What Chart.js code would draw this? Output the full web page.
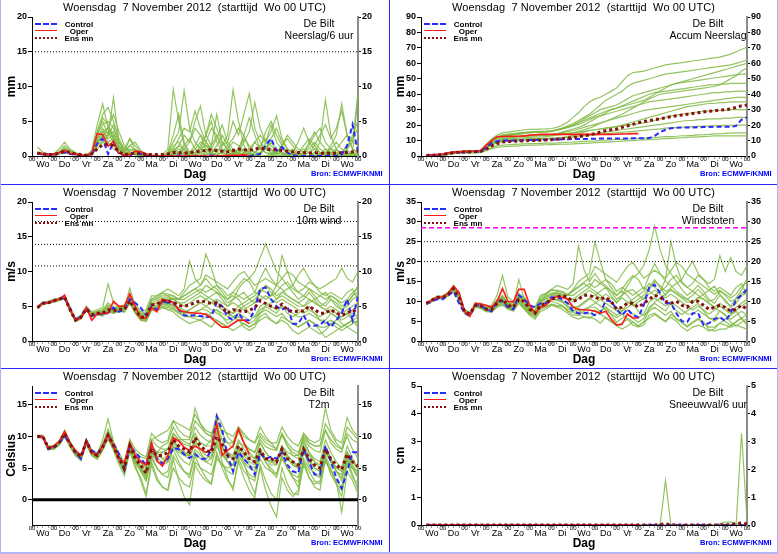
<!DOCTYPE html>
<html>
<head>
<meta charset="utf-8">
<script src="https://cdn.jsdelivr.net/npm/chart.js@4.4.0/dist/chart.umd.min.js"></script>
<style>
html, body { margin: 0; padding: 0; background: #fff; }
#frame { position: relative; width: 778px; height: 554px; overflow: hidden; font-family: "Liberation Sans", Arial, sans-serif; color: #000; }
.panel { position: absolute; width: 389px; height: 184px; }
.panel canvas { position: absolute; left: 0; top: 0; }
.ttl { position: absolute; left: 0; top: 1px; width: 389px; text-align: center; font-size: 11px; line-height: 13px; white-space: pre; letter-spacing: 0.1px; }
.stn { position: absolute; left: 259px; width: 120px; text-align: center; font-size: 10.5px; line-height: 12px; white-space: pre; }
.bron { position: absolute; left: 311px; top: 169px; font-size: 7.5px; line-height: 10px; font-weight: bold; color: #0000ff; white-space: pre; }
.lgl { position: absolute; left: 35px; width: 22px; height: 0; }
.lgt { position: absolute; left: 60px; width: 38px; text-align: center; font-size: 8px; line-height: 9px; font-weight: bold; }
.fl { position: absolute; background: #2a2aff; }
.ol { position: absolute; background: #b4b4f4; }
</style>
</head>
<body>
<div id="frame"></div>
<script>
// tijdstappen (uren na start) en as-labels
const hours = [6,12,18,24,30,36,42,48,54,60,66,72,78,84,90,96,102,108,114,120,126,132,138,144,150,156,162,168,174,180,186,192,198,204,210,216,222,228,234,240,246,252,258,264,270,276,282,288,294,300,306,312,318,324,330,336,342,348,354,360];
const hourTicks = [0,6,12,18,24,30,36,42,48,54,60,66,72,78,84,90,96,102,108,114,120,126,132,138,144,150,156,162,168,174,180,186,192,198,204,210,216,222,228,234,240,246,252,258,264,270,276,282,288,294,300,306,312,318,324,330,336,342,348,354,360];
const dayTicks = [12,36,60,84,108,132,156,180,204,228,252,276,300,324,348];
const dayLabels = ['Wo','Do','Vr','Za','Zo','Ma','Di','Wo','Do','Vr','Za','Zo','Ma','Di','Wo'];

// ---- Neerslag/6 uur ----
const precipControl = [0.4,0.2,0.2,0.2,0.4,0.5,0.3,0.2,0.1,0.0, 0.2,1.8,2.5,0.3,2.0,0.3,0.1,0.1,0.4,0.3, 0.1,0.0,0.0,0.0,0.0,0.0,0.1,0.0,0.0,0.0, 0.0,0.0,0.1,0.0,0.0,0.0,0.0,0.0,0.0,0.0, 0.1,0.3,1.5,2.5,0.8,1.3,0.5,0.1,0.0,0.0, 0.0,0.0,0.0,0.0,0.1,0.0,0.2,1.5,4.5,0.5];
const precipOper = [0.5,0.3,0.2,0.3,0.5,0.8,0.4,0.3,0.1,0.1, 0.4,3.2,3.1,1.4,2.1,0.4,0.1,0.2,0.7,0.6, 0.3,0.0,0.0,0.0,0.0,0.0,0.0,0.0,0.0,0.0, 0.0,0.0,0.0,0.0,0.0,0.1,0.1,0.1,0.2,0.0];
const precipMean = [0.4,0.3,0.2,0.2,0.4,0.7,0.5,0.3,0.2,0.1, 0.3,1.0,1.6,1.7,1.5,0.6,0.2,0.3,0.4,0.4, 0.2,0.2,0.2,0.2,0.3,0.5,0.5,0.4,0.5,0.6, 0.7,0.8,0.9,0.8,0.7,0.6,0.8,1.0,0.9,0.8, 1.0,1.2,1.0,0.9,0.9,0.8,0.7,0.6,0.5,0.5, 0.4,0.5,0.4,0.4,0.4,0.4,0.5,0.5,0.6,0.7];
const precipMembers = [
  [0.5,0.3,0.2,0.2,0.5,1.0,0.6,0.3,0.1,0.1, 0.5,3.5,5.0,3.0,8.4,2.0,1.0,2.5,0.8,0.3, 0.1,0.0,0.0,0.2,1.0,9.6,5.0,1.5,0.5,0.2, 0.5,1.0,0.3,0.0,0.0,0.2,0.5,0.3,0.1,0.0, 0.0,0.5,1.5,0.8,0.3,0.0,0.0,0.2,0.4,0.2, 0.0,0.0,0.3,1.0,0.5,0.2,0.0,0.0,0.3,0.5],
  [1.3,0.5,0.2,0.3,1.0,2.0,1.0,0.5,0.2,0.1, 0.8,4.5,7.5,4.0,2.5,1.0,0.5,1.5,2.0,0.8, 0.3,0.2,0.1,0.0,0.5,2.0,3.5,9.4,4.0,2.0, 1.0,0.5,1.5,3.0,1.0,0.5,0.3,0.0,0.0,0.5, 2.0,1.0,0.5,0.3,0.0,0.0,0.5,1.0,0.3,0.0, 0.0,0.5,0.3,0.0,0.0,0.2,0.5,0.8,0.3,0.0],
  [0.3,0.2,0.1,0.1,0.3,0.6,0.4,0.2,0.1,0.0, 0.3,2.5,3.5,2.5,3.0,1.5,0.5,0.5,0.3,0.1, 0.0,0.0,0.0,0.0,0.2,0.5,1.5,3.0,2.0,5.0, 7.2,3.0,1.5,6.0,2.0,1.0,0.5,0.5,1.0,0.3, 0.1,0.0,0.0,0.0,0.3,0.5,0.2,0.0,0.0,0.0, 0.0,0.5,2.0,8.1,3.0,1.0,0.3,0.0,0.0,0.0],
  [0.4,0.3,0.2,0.2,0.4,0.8,0.5,0.3,0.2,0.1, 0.5,3.0,4.5,5.0,4.0,2.0,1.0,1.0,0.5,0.2, 0.1,0.0,0.0,0.1,0.3,1.0,0.5,0.2,0.5,1.5, 3.0,2.0,1.0,0.5,1.5,3.0,9.5,5.0,1.5,0.5, 0.2,0.0,0.0,0.3,0.5,0.3,0.1,0.0,0.0,0.2, 0.5,1.0,0.5,0.2,0.0,0.0,0.0,0.3,0.5,0.3],
  [0.5,0.4,0.3,0.2,0.6,1.5,0.8,0.4,0.2,0.1, 0.4,2.0,3.0,4.0,6.0,3.5,1.5,0.5,0.3,0.2, 0.0,0.0,0.0,0.0,0.1,0.3,0.5,0.2,0.1,0.0, 0.5,2.0,4.0,3.0,1.5,2.0,5.0,3.0,6.0,9.0, 4.0,2.0,1.0,0.5,0.5,1.0,0.5,0.2,0.0,0.0, 0.0,0.0,0.3,0.5,1.0,2.0,1.0,0.5,0.2,0.0],
  [0.4,0.2,0.1,0.2,0.5,1.2,0.6,0.3,0.1,0.0, 0.2,1.5,2.5,1.5,1.5,0.8,0.3,0.2,0.5,0.2, 0.0,0.0,0.0,0.0,0.0,0.0,0.5,1.5,2.5,1.0, 0.5,0.2,0.5,1.0,0.5,0.2,0.0,0.5,2.0,3.5, 7.7,4.0,2.0,3.5,5.8,2.5,1.0,0.5,0.3,0.0, 0.0,0.0,0.0,0.5,1.0,0.5,0.2,0.0,0.0,0.3],
  [0.6,0.3,0.2,0.2,0.4,0.9,0.5,0.2,0.1,0.1, 0.6,3.5,6.0,7.0,5.0,2.5,1.0,0.8,1.0,0.4, 0.1,0.0,0.0,0.0,0.3,1.5,2.0,1.0,0.5,0.5, 1.0,1.5,1.0,0.5,0.3,0.1,0.0,0.0,0.3,1.0, 2.0,3.0,2.0,1.0,0.5,1.5,3.0,2.0,1.0,0.5, 2.0,3.5,2.0,1.0,0.5,0.3,0.2,1.0,3.0,5.0],
  [0.3,0.2,0.1,0.1,0.3,0.5,0.3,0.2,0.1,0.0, 0.2,1.0,2.0,2.0,1.0,0.5,0.2,0.3,0.2,0.1, 0.0,0.0,0.0,0.0,0.5,3.0,6.0,2.0,0.5,0.2, 1.0,3.0,5.0,2.0,0.5,0.3,0.2,0.5,1.0,0.5, 0.2,0.0,0.0,0.0,0.0,0.0,0.2,0.5,2.0,4.0, 2.0,1.0,0.5,0.3,1.5,3.0,7.5,3.0,1.0,0.5],
  [0.5,0.3,0.2,0.3,0.6,1.0,0.7,0.4,0.2,0.1, 0.3,2.0,3.0,3.5,2.0,1.2,0.6,2.5,1.5,0.5, 0.2,0.1,0.0,0.0,0.0,0.2,0.5,1.0,2.0,4.0, 3.0,1.0,0.5,0.2,0.5,1.5,2.5,4.0,3.0,1.0, 0.5,0.3,1.0,2.0,1.0,0.3,0.0,0.0,0.2,0.5, 1.5,3.0,4.0,2.0,1.0,0.5,0.3,1.0,2.0,9.2],
  [0.4,0.3,0.2,0.2,0.5,0.7,0.4,0.2,0.1,0.1, 0.4,2.5,4.0,2.0,2.5,1.0,0.4,0.4,0.3,0.1, 0.0,0.0,0.0,0.0,0.0,0.0,0.2,0.5,0.3,0.1, 0.0,0.2,0.5,1.5,3.0,1.5,0.5,0.2,0.5,1.0, 0.5,0.3,2.0,4.5,2.0,1.0,0.5,0.2,0.0,0.0, 0.0,0.0,0.2,0.5,0.3,0.0,0.0,0.0,0.5,8.5],
  [0.4,0.2,0.1,0.1,0.4,0.8,0.4,0.2,0.1,0.0, 0.3,1.8,2.8,3.0,3.5,1.5,0.5,0.4,0.2,0.1, 0.0,0.0,0.0,0.0,0.3,1.0,2.5,4.0,3.5,6.5, 4.0,2.0,1.0,2.5,4.5,2.0,1.0,0.5,0.3,0.2, 0.5,1.5,2.5,1.5,0.8,0.5,0.3,0.2,0.5,1.0, 0.5,0.2,0.0,0.0,0.3,0.8,0.5,0.2,0.0,0.0],
  [0.5,0.3,0.2,0.2,0.5,0.9,0.5,0.3,0.1,0.1, 0.5,3.0,5.5,4.5,3.0,1.5,0.8,0.6,0.4,0.2, 0.1,0.0,0.0,0.0,0.0,0.5,1.0,0.5,0.2,0.5, 1.5,3.0,6.0,4.0,2.0,1.0,0.5,1.0,2.5,1.5, 0.5,1.0,3.5,5.0,3.0,1.5,0.5,0.3,0.2,0.5, 1.0,2.0,1.0,0.5,0.3,0.2,0.5,1.5,2.5,4.0],
  [0.3,0.2,0.1,0.1,0.3,0.6,0.3,0.2,0.1,0.0, 0.2,1.5,2.0,3.0,4.5,2.0,0.8,1.5,0.8,0.3, 0.1,0.0,0.0,0.0,0.2,0.8,1.5,0.8,0.3,1.0, 2.0,1.5,0.5,0.2,0.0,0.0,0.3,1.0,3.0,5.5, 3.0,1.0,0.5,0.2,0.5,1.5,2.5,1.5,0.5,0.2, 0.5,1.5,3.0,4.5,2.5,4.0,6.5,3.0,1.0,0.5],
  [0.4,0.3,0.2,0.2,0.4,0.7,0.4,0.3,0.2,0.1, 0.4,2.2,3.5,4.0,2.5,1.0,0.4,0.3,0.2,0.1, 0.0,0.0,0.0,0.0,0.0,0.2,0.5,0.3,0.1,0.0, 0.2,0.5,0.3,0.2,0.5,1.0,2.0,1.5,0.5,0.3, 0.2,0.5,1.0,2.5,4.0,2.0,1.0,0.5,0.5,1.5, 2.5,1.5,0.5,0.3,0.5,1.0,2.0,3.0,2.0,1.5]
];
const precipRefs = [15];

// ---- Accum Neerslag ----
const accumControl = [0.4,0.6,0.8,1.0,1.8,2.3,2.5,2.6,2.7,2.8, 3.0,5.5,8.5,9.5,10.0,10.0,10.0,10.0,10.2,10.3, 10.4,10.5,10.5,10.6,10.7,10.8,10.9,11.0,11.0,11.0, 11.1,11.2,11.3,11.3,11.3,11.4,11.4,11.4,11.5,11.5, 11.5,11.6,13.0,15.5,17.0,18.0,18.3,18.5,18.5,18.5, 18.6,18.7,18.8,18.9,19.0,19.0,19.0,19.5,23.5,25.0];
const accumOper = [0.5,0.8,1.0,1.3,2.0,2.5,2.8,3.0,3.1,3.2, 3.5,7.0,10.0,12.5,12.6,12.7,12.8,12.8,13.0,13.5, 13.8,14.0,14.0,14.0,14.0,14.0,14.0,14.0,14.0,14.0, 14.0,14.0,14.0,14.0,14.0,14.1,14.2,14.3,14.5,14.5];
const accumMean = [0.3,0.5,0.7,0.9,1.6,2.2,2.5,2.6,2.7,2.8, 3.0,4.5,6.5,8.0,9.0,9.3,9.5,9.6,9.8,10.0, 10.1,10.2,10.4,10.6,10.8,11.2,11.6,12.0,12.5,13.0, 13.6,14.5,15.5,16.5,17.0,17.5,18.5,19.5,20.5,21.5, 22.3,23.0,23.5,24.0,24.8,25.5,26.0,26.5,27.0,27.5, 28.0,28.5,29.0,29.3,29.7,30.0,30.5,31.5,32.5,33.0];
const accumMembers = [
  [0.5,0.8,1.0,1.2,2.0,2.8,3.0,3.2,3.3,3.4, 3.8,7.5,11.0,13.5,15.0,15.5,16.0,16.5,17.0,17.2, 17.3,17.4,17.5,17.8,18.5,20.0,22.0,25.0,28.0,32.0, 35.0,37.0,38.0,40.0,42.0,44.0,48.0,52.0,54.0,54.5, 55.0,56.0,57.0,58.0,59.0,59.5,60.0,60.5,61.0,61.5, 62.0,62.5,63.0,63.5,64.0,65.0,66.0,67.5,69.0,70.5],
  [0.4,0.6,0.8,1.0,1.8,2.5,2.8,3.0,3.1,3.2, 3.5,6.5,9.5,11.5,12.5,13.0,13.5,14.0,14.5,15.0, 15.2,15.3,15.5,16.0,17.0,18.0,19.5,21.0,23.0,25.0, 27.0,30.0,33.0,36.0,38.0,40.0,42.0,45.0,47.0,48.0, 49.0,50.0,51.0,52.0,53.0,53.5,54.0,54.5,55.0,55.5, 56.0,56.5,57.0,57.5,58.0,58.5,59.0,60.0,61.0,62.0],
  [0.3,0.5,0.7,0.9,1.6,2.3,2.6,2.8,2.9,3.0, 3.3,6.0,8.5,10.0,11.0,11.5,12.0,12.3,12.5,12.8, 13.0,13.2,13.5,14.0,14.5,15.5,16.5,17.5,18.5,20.0, 22.0,24.0,26.0,28.0,30.0,31.0,32.0,33.0,34.0,35.0, 36.0,38.0,40.0,42.0,44.0,46.0,47.0,48.0,49.0,50.0, 51.0,52.0,53.0,54.0,55.0,56.0,57.0,58.0,59.0,60.0],
  [0.4,0.7,0.9,1.1,1.9,2.6,2.9,3.1,3.2,3.3, 3.6,7.0,10.0,12.0,13.0,13.5,14.0,14.5,15.0,15.5, 15.8,16.0,16.2,16.5,17.0,18.0,19.0,20.0,21.5,23.0, 24.5,26.0,27.5,29.0,30.0,31.0,32.5,34.0,35.5,37.0, 38.5,40.0,41.0,41.5,42.0,42.5,43.0,43.5,44.0,44.5, 45.0,45.5,46.0,46.0,46.5,46.5,47.0,47.0,47.0,47.0],
  [0.3,0.5,0.6,0.8,1.5,2.2,2.4,2.6,2.7,2.8, 3.0,5.5,8.0,9.5,10.5,11.0,11.3,11.5,11.8,12.0, 12.2,12.3,12.5,13.0,13.5,14.0,14.5,15.0,16.0,17.0, 18.0,19.5,21.0,22.5,24.0,25.5,27.0,29.0,31.0,33.0, 35.0,37.0,38.5,40.0,40.5,41.0,41.5,42.0,42.5,43.0, 43.5,44.0,44.5,45.0,46.0,48.0,50.0,52.0,55.0,57.0],
  [0.4,0.6,0.8,1.0,1.7,2.4,2.7,2.9,3.0,3.1, 3.4,6.8,9.8,12.0,13.5,14.0,14.5,15.0,15.3,15.5, 15.6,15.7,15.8,16.0,16.5,17.5,18.5,19.5,20.5,22.0, 23.5,25.0,26.0,27.0,28.0,29.0,30.0,31.0,32.0,33.0, 34.0,35.0,35.5,36.0,36.5,37.0,37.5,38.0,38.5,39.0, 39.5,40.0,40.5,41.0,41.0,41.5,41.5,42.0,42.0,42.0],
  [0.3,0.5,0.7,0.9,1.6,2.3,2.5,2.7,2.8,2.9, 3.1,5.8,8.5,10.2,11.2,11.6,12.0,12.5,13.0,13.3, 13.5,13.6,13.7,14.0,14.5,15.0,15.8,16.5,17.5,18.5, 19.5,20.5,21.5,22.5,23.5,24.5,25.5,26.5,27.5,28.5, 29.5,30.0,30.5,31.0,31.5,32.0,32.5,33.0,33.5,34.0, 34.5,35.0,35.5,36.0,36.5,37.0,37.5,38.0,38.0,38.0],
  [0.3,0.4,0.5,0.7,1.3,2.0,2.2,2.4,2.5,2.6, 2.8,5.0,7.0,8.5,9.2,9.5,9.8,10.0,10.2,10.4, 10.5,10.6,10.8,11.0,11.3,11.8,12.5,13.5,14.5,15.5, 16.5,17.0,17.5,18.0,18.5,19.0,20.0,21.0,22.0,23.0, 24.0,25.0,26.0,27.0,28.0,29.0,30.0,31.0,32.0,32.5, 33.0,33.5,34.0,34.0,34.5,34.5,35.0,35.0,35.0,35.0],
  [0.4,0.6,0.8,1.0,1.7,2.4,2.6,2.8,2.9,3.0, 3.3,6.5,9.0,11.0,12.0,12.3,12.5,12.8,13.0,13.2, 13.3,13.4,13.5,13.7,14.0,14.3,14.6,15.0,15.5,16.0, 16.5,17.0,17.5,18.0,18.5,19.0,19.5,20.0,20.5,21.0, 21.5,22.0,23.0,24.0,25.0,26.0,26.5,27.0,27.5,28.0, 28.5,29.0,29.0,29.5,29.5,29.5,30.0,30.0,30.0,30.0],
  [0.3,0.4,0.6,0.8,1.4,2.1,2.3,2.5,2.6,2.7, 2.9,5.2,7.5,9.0,9.8,10.2,10.5,10.8,11.0,11.2, 11.3,11.4,11.5,11.6,11.8,12.0,12.3,12.6,13.0,13.5, 14.0,14.5,15.0,15.5,16.0,16.5,17.0,17.5,18.0,18.5, 19.0,19.5,20.0,20.5,21.0,21.5,22.0,22.5,23.0,23.0, 23.5,23.5,24.0,24.0,24.0,24.5,24.5,25.0,25.0,25.0],
  [0.3,0.5,0.6,0.8,1.5,2.2,2.4,2.6,2.7,2.8, 3.0,5.5,7.8,9.3,10.0,10.3,10.5,10.7,10.9,11.0, 11.1,11.2,11.3,11.4,11.5,11.7,12.0,12.3,12.6,13.0, 13.3,13.6,14.0,14.3,14.6,15.0,15.3,15.6,16.0,16.3, 16.6,17.0,17.3,17.6,18.0,18.2,18.4,18.6,18.8,19.0, 19.2,19.4,19.5,19.6,19.7,19.8,19.9,20.0,20.0,20.0],
  [0.2,0.3,0.4,0.6,1.1,1.7,1.9,2.1,2.2,2.3, 2.5,4.0,5.5,6.5,7.0,7.3,7.5,7.7,7.9,8.0, 8.1,8.2,8.3,8.4,8.5,8.7,8.9,9.0,9.3,9.5, 9.6,9.8,10.1,10.2,10.4,10.7,10.8,11.0,11.3,11.4, 11.6,11.9,12.0,12.2,12.5,12.6,12.8,13.1,13.2,13.4, 13.7,13.8,14.0,14.3,14.4,14.6,14.8,15.0,15.0,15.0],
  [0.4,0.6,0.8,1.0,1.8,2.6,2.8,3.0,3.1,3.2, 3.5,7.0,10.5,12.5,13.5,14.0,14.3,14.6,15.0,15.3, 15.5,15.6,15.8,16.2,16.8,17.5,18.5,20.0,22.0,24.0, 26.0,28.0,30.0,31.0,32.0,33.0,35.0,37.0,39.0,40.0, 41.0,42.0,43.0,44.0,45.0,46.0,47.0,47.5,48.0,48.5, 49.0,49.5,50.0,50.5,51.0,51.5,52.0,52.5,53.0,53.0],
  [0.2,0.3,0.4,0.5,1.0,1.5,1.7,1.8,1.9,2.0, 2.2,3.5,4.8,5.5,6.0,6.2,6.4,6.6,6.8,7.0, 7.1,7.2,7.3,7.4,7.5,7.6,7.7,7.8,8.0,8.2, 8.4,8.6,8.8,9.0,9.2,9.4,9.6,9.8,10.0,10.2, 10.4,10.6,10.8,11.0,11.2,11.4,11.6,11.8,12.0,12.2, 12.4,12.6,12.8,13.0,13.0,13.0,13.0,13.0,13.0,13.0]
];

// ---- 10m wind ----
const windControl = [4.8,5.5,5.5,5.8,6.0,6.2,4.8,3.0,3.5,4.8, 3.6,4.0,3.8,4.0,4.8,4.2,4.5,6.0,5.5,4.8, 3.7,5.0,4.5,5.8,5.5,5.5,4.5,3.7,3.6,3.7, 3.6,3.4,3.5,5.6,5.0,3.5,3.0,4.0,3.0,3.0, 4.5,7.5,7.7,6.0,5.0,4.5,5.0,2.5,2.5,3.7, 2.2,2.2,2.3,3.0,2.0,3.0,4.0,6.0,3.0,6.5];
const windOper = [4.8,5.5,5.5,5.8,6.0,6.6,4.5,3.0,3.3,4.8, 3.0,3.9,4.0,4.0,5.7,5.0,5.0,6.8,5.0,3.3, 3.3,4.8,4.2,6.0,5.8,5.6,4.5,4.2,4.1,4.0, 4.0,3.8,3.3,2.6,2.0,2.0,2.5,3.0,3.0,2.5];
const windMean = [4.8,5.4,5.5,5.8,6.0,6.3,4.5,3.0,3.4,4.6, 3.8,4.0,4.0,4.5,4.3,4.6,4.5,5.8,4.5,3.4, 3.5,5.2,5.3,5.8,5.7,5.6,5.1,5.0,5.2,5.5, 5.8,5.6,5.4,5.5,4.8,4.0,4.5,4.4,4.2,4.4, 4.8,5.8,5.4,5.0,4.8,5.3,4.5,4.2,4.3,4.3, 5.0,4.5,4.0,4.0,4.5,4.0,3.7,4.0,4.5,4.0];
const windMembers = [
  [4.9,5.6,5.7,6.0,6.2,6.5,4.8,3.3,3.7,5.0, 4.2,4.5,4.8,8.2,5.5,5.0,5.2,6.5,5.0,4.0, 4.2,6.0,6.5,7.0,7.5,7.0,6.5,7.5,11.5,9.0, 8.0,9.0,8.0,7.5,6.5,5.5,6.0,6.5,7.0,6.0, 5.5,7.0,8.0,7.5,6.5,7.0,6.5,6.0,5.5,6.0, 7.0,6.0,5.0,5.5,6.5,6.0,5.0,5.5,6.5,7.0],
  [4.7,5.3,5.4,5.6,5.8,6.1,4.3,2.8,3.2,4.4, 3.5,3.8,3.6,4.2,4.0,4.3,4.2,5.5,4.0,3.0, 2.8,4.5,4.5,5.0,4.5,4.2,3.5,3.0,2.5,2.8, 3.0,2.5,2.0,3.0,2.5,2.0,2.5,3.0,2.0,1.5, 2.0,3.5,4.0,3.0,2.5,3.0,2.5,1.5,1.0,1.5, 2.0,1.5,1.0,1.5,2.5,2.0,1.5,2.0,1.5,1.0],
  [4.8,5.4,5.6,5.9,6.1,6.4,4.6,3.1,3.5,4.7, 3.9,4.2,4.3,5.0,4.6,4.8,4.8,7.6,5.0,3.8, 4.0,5.8,6.0,6.5,6.5,6.0,6.0,7.0,8.0,8.5, 9.0,12.5,10.5,8.0,7.0,6.0,7.0,8.0,9.0,8.5, 7.0,9.0,10.5,9.0,8.0,7.5,6.5,6.0,5.5,5.0, 6.0,5.5,5.0,4.5,5.0,4.5,4.0,4.5,5.0,5.5],
  [4.8,5.5,5.5,5.8,6.0,6.3,4.5,3.0,3.4,4.6, 3.8,4.0,3.9,4.6,4.3,4.6,4.4,5.8,4.4,3.3, 3.4,5.0,5.0,5.5,5.5,5.2,4.5,4.0,4.5,5.0, 5.5,6.0,6.5,7.0,6.0,5.0,6.0,7.5,8.5,9.0, 10.0,12.0,14.0,12.0,10.0,9.0,8.0,7.0,6.0,6.5, 7.5,6.5,5.5,5.0,6.0,5.5,4.5,5.0,6.0,6.5],
  [4.7,5.4,5.5,5.7,5.9,6.2,4.4,2.9,3.3,4.5, 3.7,3.9,3.8,4.4,4.1,4.4,4.3,5.6,4.2,3.2, 3.2,4.8,4.8,5.3,5.0,4.8,4.0,3.5,3.5,4.0, 4.5,4.5,4.0,4.5,4.0,3.5,4.0,5.0,5.5,6.0, 6.5,7.5,7.0,6.5,8.0,12.3,10.0,8.0,7.0,6.5, 6.0,5.5,5.0,4.5,4.0,3.5,3.0,3.5,4.0,3.5],
  [4.9,5.5,5.6,5.9,6.1,6.4,4.7,3.2,3.6,4.8, 4.0,4.3,4.5,5.5,4.8,5.0,5.0,6.5,5.5,4.2, 4.5,6.5,6.5,7.0,6.5,6.5,6.0,6.5,7.0,7.5, 7.0,6.5,6.0,5.5,5.0,4.5,4.0,4.5,5.0,4.0, 3.5,4.0,4.5,4.0,3.5,4.0,3.0,2.5,2.0,2.5, 3.0,2.5,2.0,2.0,2.5,3.0,3.5,4.0,3.0,2.5],
  [4.8,5.5,5.5,5.8,6.0,6.3,4.6,3.0,3.4,4.7, 3.8,4.1,4.0,4.7,4.4,4.7,4.6,6.0,4.6,3.5, 3.6,5.3,5.5,6.0,6.0,6.0,5.5,5.5,6.0,6.5, 7.0,8.0,7.5,7.0,6.5,6.0,6.5,6.0,5.0,5.5, 6.0,7.0,8.0,7.0,6.0,7.0,7.5,8.0,9.5,10.5, 9.0,8.0,7.5,8.0,8.5,9.0,10.5,9.0,8.5,10.0],
  [4.8,5.4,5.4,5.7,5.9,6.2,4.4,2.9,3.3,4.5, 3.6,3.9,3.7,4.3,4.0,4.3,4.2,5.4,4.0,3.0, 2.9,4.4,4.3,4.8,4.5,4.5,4.0,3.8,3.5,3.2, 3.0,3.5,4.0,4.5,3.5,2.5,3.0,3.5,3.0,2.5, 3.0,4.5,5.0,4.5,4.0,5.0,4.0,3.5,4.0,4.5, 5.0,4.0,3.0,3.0,4.0,3.5,2.5,2.0,2.5,3.0],
  [4.9,5.6,5.6,5.9,6.1,6.4,4.7,3.1,3.6,4.8, 4.0,4.2,4.4,5.2,4.7,4.9,4.8,6.2,5.0,3.8, 4.0,6.0,6.2,6.8,6.8,6.5,6.0,6.0,6.5,7.0, 7.5,7.0,7.5,8.0,7.5,6.5,7.0,6.5,6.0,6.5, 7.0,6.5,6.0,6.5,7.0,8.0,8.5,7.5,7.0,7.5, 8.5,8.0,7.0,6.5,7.0,6.5,6.0,7.0,7.5,6.0],
  [4.7,5.3,5.4,5.7,5.9,6.1,4.3,2.8,3.2,4.4, 3.5,3.8,3.7,4.3,4.0,4.3,4.2,5.5,4.1,3.1, 3.0,4.6,4.6,5.0,4.8,4.6,4.2,4.0,4.0,4.2, 4.5,5.0,5.5,5.0,4.5,4.0,3.5,3.0,2.5,2.0, 2.5,3.0,3.5,3.0,2.5,3.5,3.0,2.5,2.0,2.5, 3.0,2.5,1.5,0.5,1.0,1.5,2.0,2.5,3.0,3.5],
  [4.8,5.5,5.5,5.8,6.0,6.3,4.5,3.0,3.4,4.6, 3.8,4.0,4.0,4.5,4.3,4.6,4.5,5.8,4.5,3.4, 3.5,5.2,5.4,5.9,6.0,6.2,6.0,6.5,7.0,7.5, 8.0,9.5,9.0,8.5,8.0,7.5,8.5,9.5,10.0,9.0, 8.0,8.5,9.0,8.5,8.0,9.0,10.0,9.5,8.5,8.0, 7.5,7.0,6.5,6.0,6.5,6.0,5.5,6.0,7.0,7.5],
  [4.8,5.4,5.5,5.8,6.0,6.2,4.5,3.0,3.4,4.6, 3.7,4.0,3.9,4.5,4.2,4.5,4.4,5.7,4.4,3.3, 3.3,5.0,5.1,5.6,5.3,5.2,4.8,4.5,4.0,3.5, 3.5,4.0,3.5,3.0,2.5,2.0,1.5,2.0,2.5,2.0, 2.5,4.0,5.0,5.5,6.0,6.5,6.0,5.5,5.0,5.0, 5.5,6.0,6.5,7.0,6.0,5.0,4.5,5.5,6.5,8.0],
  [4.9,5.5,5.6,5.9,6.1,6.4,4.6,3.1,3.5,4.7, 3.9,4.1,4.2,4.8,4.5,4.7,4.6,6.0,4.8,3.6, 3.8,5.5,5.8,6.2,6.2,6.0,5.5,5.0,5.5,6.0, 6.5,6.0,5.5,6.0,5.5,5.0,5.5,5.0,4.5,5.0, 5.5,6.0,6.5,6.0,5.5,6.0,5.5,5.0,4.5,4.0, 4.5,4.0,3.5,4.0,4.5,4.0,3.5,4.0,4.5,5.0],
  [4.7,5.4,5.4,5.7,5.9,6.2,4.4,2.9,3.3,4.5, 3.7,3.9,3.8,4.4,4.1,4.4,4.3,5.6,4.3,3.2, 3.1,4.7,4.9,5.4,5.2,5.0,4.5,4.2,4.5,5.0, 5.5,5.0,4.5,4.0,3.5,3.0,3.5,4.0,3.5,3.0, 3.5,5.0,5.5,5.0,4.5,5.0,4.5,4.0,3.5,3.5, 4.0,3.5,3.0,2.5,3.0,2.5,2.0,2.5,3.0,2.0]
];
const windRefs = [10.8, 13.9, 17.2];

// ---- Windstoten ----
const gustControl = [9.3,10.0,10.5,10.5,11.5,12.5,9.5,7.0,6.3,9.0, 9.0,8.0,7.5,10.0,10.0,8.5,8.0,11.5,10.5,9.0, 8.5,9.5,9.5,11.0,11.0,10.5,9.5,7.5,7.0,7.0, 7.2,6.5,7.0,10.2,10.0,8.0,6.5,8.0,6.5,6.0, 9.0,13.5,14.2,12.0,9.5,9.5,7.0,5.0,4.8,7.0, 7.0,4.0,4.5,5.5,6.0,5.0,7.0,10.5,11.5,13.0];
const gustOper = [9.5,10.3,11.0,11.0,12.0,13.8,12.3,7.5,6.2,9.5, 9.3,9.0,8.5,10.0,13.2,10.0,9.8,13.0,13.0,9.0, 7.0,8.5,9.0,10.5,11.2,11.0,10.5,8.5,8.0,7.8, 7.8,7.5,7.0,7.5,5.5,4.0,4.2,6.8,5.8,5.8];
const gustMean = [9.5,10.3,11.0,11.0,11.8,13.2,11.0,7.5,6.8,9.0, 8.8,8.0,8.0,9.5,10.5,9.0,8.5,10.5,10.0,8.0, 7.0,9.0,9.5,10.5,11.0,11.5,11.0,10.0,10.5,11.5, 11.5,11.0,10.5,11.0,10.0,8.0,8.5,9.5,9.5,8.5, 9.5,10.5,11.5,11.0,10.0,9.5,10.0,9.0,8.5,10.0, 10.0,9.0,8.0,8.5,9.0,8.5,7.5,8.0,9.0,8.0];
const gustMembers = [
  [9.6,10.5,11.3,11.4,12.3,14.0,11.8,8.0,7.2,9.6, 9.5,8.8,9.0,11.5,16.5,11.0,10.0,12.0,11.0,9.0, 8.5,10.5,11.5,13.0,14.0,13.5,13.0,14.5,24.0,18.0, 15.0,17.0,15.0,14.0,12.5,10.5,11.5,12.5,13.0,11.5, 10.5,13.0,15.0,14.0,12.5,13.0,12.0,11.0,10.5,11.5, 13.0,11.5,10.0,10.5,12.5,11.5,10.0,10.5,12.0,13.0],
  [9.2,9.9,10.6,10.6,11.3,12.6,10.3,7.0,6.3,8.5, 8.2,7.4,7.2,8.5,9.0,8.0,7.5,9.5,8.0,6.5, 5.5,7.5,8.0,9.0,8.5,8.0,7.0,6.0,5.5,6.0, 6.0,5.5,4.5,6.0,5.0,4.0,4.5,5.5,4.0,3.5, 4.0,6.5,7.0,6.0,5.0,6.0,5.0,3.5,2.5,3.5, 4.0,3.5,2.5,3.0,4.5,4.0,3.5,4.0,3.5,3.0],
  [9.5,10.2,11.0,11.1,12.0,13.5,11.2,7.6,6.9,9.2, 9.0,8.3,8.4,10.0,11.5,9.5,9.0,15.5,10.5,8.0, 7.5,10.0,11.0,12.0,12.0,11.5,11.5,13.0,15.0,16.0, 17.0,25.0,20.0,15.5,13.5,11.5,13.0,15.0,16.5,15.5, 13.0,16.5,19.5,17.0,15.0,14.0,12.5,11.5,10.5,9.5, 11.0,10.5,9.5,8.5,9.5,8.5,7.5,8.5,9.5,10.5],
  [9.4,10.2,10.9,10.9,11.7,13.1,10.8,7.4,6.7,8.9, 8.7,7.9,7.9,9.3,10.2,8.8,8.4,10.5,9.0,7.5, 7.0,9.0,9.5,10.5,10.5,10.0,8.5,7.5,8.5,9.5, 10.5,11.5,12.5,13.5,11.5,9.5,11.5,14.0,16.0,17.0, 19.0,23.0,29.0,23.0,19.0,17.0,15.0,13.0,11.5,12.5, 14.0,12.5,10.5,9.5,11.5,10.5,8.5,9.5,11.5,12.0],
  [9.3,10.1,10.8,10.8,11.6,13.0,10.7,7.3,6.6,8.8, 8.6,7.8,7.7,9.2,10.0,8.6,8.2,10.2,8.8,7.2, 6.8,8.8,9.2,10.0,9.5,9.0,7.5,6.5,6.5,7.5, 8.5,8.5,7.5,8.5,7.5,6.5,7.5,9.5,10.5,11.5, 12.5,14.5,13.5,12.5,15.5,25.0,19.0,15.0,13.5,12.5, 11.5,10.5,9.5,8.5,7.5,6.5,5.5,6.5,7.5,6.5],
  [9.6,10.4,11.2,11.2,12.1,13.6,11.4,7.7,7.0,9.3, 9.2,8.5,8.6,10.5,11.0,9.8,9.2,11.5,11.0,8.5, 8.5,11.5,12.0,13.0,12.5,12.5,11.5,12.5,13.5,14.5, 13.5,12.5,11.5,10.5,9.5,8.5,7.5,8.5,9.5,7.5, 6.5,7.5,8.5,7.5,6.5,7.5,5.5,4.5,3.5,4.5, 5.5,4.5,3.5,3.5,4.5,5.5,6.5,7.5,5.5,4.5],
  [9.5,10.3,11.0,11.0,11.8,13.2,11.0,7.5,6.8,9.1, 8.8,8.1,8.1,9.6,10.6,9.1,8.6,10.8,10.0,8.0, 7.2,9.8,10.5,11.5,11.5,11.5,10.5,10.5,11.5,12.5, 13.5,15.5,14.5,13.5,12.5,11.5,12.5,11.5,9.5,10.5, 11.5,13.5,15.5,13.5,11.5,13.5,14.5,15.5,18.0,20.0, 17.0,15.5,14.5,15.5,21.5,17.5,21.0,17.5,16.5,19.0],
  [9.4,10.1,10.8,10.8,11.5,12.9,10.6,7.2,6.5,8.7, 8.5,7.7,7.5,8.9,9.5,8.3,7.8,9.8,8.3,6.8, 6.0,8.0,8.5,9.2,8.7,8.6,7.6,7.2,6.6,6.1, 5.7,6.6,7.6,8.5,6.6,4.7,5.7,6.6,5.7,4.7, 5.7,8.5,9.5,8.5,7.6,9.5,7.6,6.6,7.6,8.5, 9.5,7.6,5.7,5.7,7.6,6.6,4.7,3.8,4.7,5.7],
  [9.6,10.4,11.1,11.2,12.1,13.5,11.3,7.7,7.0,9.3, 9.1,8.4,8.5,10.2,11.2,9.6,9.1,11.2,10.5,8.2, 7.8,11.0,11.8,12.8,12.8,12.4,11.5,11.5,12.5,13.5, 14.5,13.5,14.5,15.5,14.5,12.5,13.5,12.5,11.5,12.5, 13.5,12.5,11.5,12.5,13.5,15.5,16.5,14.5,13.5,14.5, 16.5,15.5,13.5,12.5,13.5,12.5,11.5,13.5,14.5,11.5],
  [9.3,10.0,10.7,10.7,11.4,12.8,10.5,7.1,6.4,8.6, 8.3,7.6,7.4,8.8,9.3,8.2,7.7,9.8,8.5,6.9, 6.2,8.2,8.6,9.3,9.0,8.8,8.0,7.6,7.6,8.0, 8.6,9.5,10.5,9.5,8.6,7.6,6.7,5.7,4.8,3.8, 4.8,5.7,6.7,5.7,4.8,6.7,5.7,4.8,3.8,4.8, 5.7,4.8,2.9,2.5,3.0,3.0,3.8,4.8,5.7,6.7],
  [9.5,10.3,11.0,11.0,11.9,13.3,11.1,7.5,6.8,9.0, 8.9,8.1,8.2,9.6,10.6,9.1,8.7,10.9,10.0,8.0, 7.3,9.9,10.6,11.6,11.8,12.2,11.8,12.8,13.8,14.8, 15.8,18.8,17.8,16.8,15.8,14.8,16.8,18.8,19.8,17.8, 15.8,16.8,17.8,16.8,15.8,17.8,19.8,18.8,16.8,15.8, 14.8,13.8,12.8,11.8,12.8,11.8,10.8,11.8,13.8,14.8],
  [9.5,10.2,11.0,11.0,11.8,13.1,10.9,7.4,6.7,9.0, 8.7,8.0,7.9,9.4,10.3,8.8,8.4,10.6,9.6,7.7, 6.8,9.4,10.0,11.0,10.4,10.2,9.4,8.8,7.8,6.8, 6.8,7.8,6.8,5.8,4.8,3.8,3.0,3.8,4.8,3.8, 4.8,7.8,9.8,10.8,11.8,12.8,11.8,10.8,9.8,9.8, 10.8,11.8,12.8,13.8,11.8,9.8,8.8,10.8,12.8,15.8],
  [9.6,10.3,11.1,11.1,12.0,13.4,11.2,7.6,6.9,9.2, 9.0,8.2,8.3,9.8,10.8,9.3,8.8,11.0,10.2,8.2, 7.5,10.2,11.2,12.0,12.2,11.8,10.8,9.8,10.8,11.8, 12.8,11.8,10.8,11.8,10.8,9.8,10.8,9.8,8.8,9.8, 10.8,11.8,12.8,11.8,10.8,11.8,10.8,9.8,8.8,7.8, 8.8,7.8,6.8,7.8,8.8,7.8,6.8,7.8,8.8,9.8],
  [9.4,10.1,10.8,10.8,11.6,12.9,10.7,7.3,6.6,8.8, 8.6,7.8,7.6,9.1,9.8,8.6,8.2,10.2,9.2,7.4, 6.5,9.0,9.6,10.6,10.2,9.8,8.8,8.3,8.8,9.8, 10.8,9.8,8.8,7.8,6.8,5.9,6.8,7.8,6.8,5.9, 6.8,9.8,10.8,9.8,8.8,9.8,8.8,7.8,6.8,6.8, 7.8,6.8,5.9,4.9,5.9,4.9,3.9,4.9,5.9,3.9]
];
const gustRefs = [20, 25];
const gustWarn = [28.5];

// ---- T2m ----
const t2mControl = [10.0,10.0,8.0,8.3,9.0,10.0,9.0,7.5,6.5,9.3, 7.8,7.3,8.5,10.3,8.8,7.3,4.7,8.5,7.5,6.5, 5.5,8.8,6.5,5.7,6.5,8.2,8.0,7.2,6.6,7.2, 6.5,6.5,7.8,13.2,11.0,7.0,4.5,7.5,6.5,5.5, 4.0,7.3,6.5,6.8,6.5,7.5,5.5,4.5,4.2,8.0, 6.0,4.0,4.0,8.5,6.0,3.5,1.8,4.5,7.5,7.5];
const t2mOper = [10.0,10.0,8.2,8.5,9.2,10.8,9.0,7.8,7.0,9.3, 7.5,7.0,8.5,10.3,8.5,6.5,5.8,9.0,7.0,6.0, 5.5,9.0,6.2,5.3,7.0,9.8,9.3,8.3,7.8,8.5, 8.0,7.5,8.0,12.0,7.0,7.8,8.5,11.2,9.0,7.2];
const t2mMean = [10.0,10.0,8.2,8.3,9.0,10.5,8.8,7.5,6.8,9.2, 7.5,7.0,8.3,10.2,8.5,6.5,5.0,8.5,6.5,5.5, 4.2,7.8,7.0,7.0,7.5,9.5,8.5,8.0,7.5,9.8, 8.5,7.8,7.5,10.0,8.8,7.0,6.5,8.5,7.5,6.5, 6.0,7.8,6.5,6.5,6.0,8.0,6.5,6.0,5.5,8.0, 6.5,5.5,5.0,8.0,6.5,5.5,4.8,7.2,6.0,5.3];
const t2mMembers = [
  [10.2,10.1,8.4,8.6,9.3,11.0,9.2,7.8,7.0,9.6, 7.8,7.4,8.8,11.2,9.2,7.4,6.0,9.6,8.0,7.2, 6.8,10.5,9.5,9.0,9.4,12.5,11.0,10.2,9.8,14.5, 12.0,10.5,10.0,12.8,10.5,9.0,8.2,10.8,9.0,8.0, 7.5,9.5,8.4,8.0,7.8,10.2,8.5,7.5,7.0,9.8, 8.5,7.8,7.5,11.0,9.0,8.0,7.5,10.5,9.5,9.0],
  [10.0,9.8,8.0,8.0,8.7,10.2,8.4,7.0,6.3,8.8, 7.0,6.4,7.8,9.6,7.8,5.6,3.8,7.6,5.0,3.5, 1.0,6.0,3.5,2.0,1.5,6.5,3.0,0.5,-0.8,5.5, 4.0,3.0,2.5,7.5,5.0,3.0,2.0,6.0,3.5,1.5, 0.3,5.5,3.0,1.0,0.0,5.0,2.5,1.0,0.8,6.0, 3.5,2.0,1.5,6.5,4.0,2.5,1.5,6.0,3.5,2.5],
  [10.1,10.0,8.1,8.2,8.9,10.4,8.6,7.4,6.6,9.0, 7.2,6.8,8.2,10.0,8.0,6.0,4.6,8.2,5.8,4.6, 3.0,7.0,6.5,7.5,8.0,10.5,9.5,8.8,8.5,11.5, 10.2,9.5,9.0,11.0,8.5,6.0,4.5,7.0,5.5,4.0, 3.5,6.5,5.0,4.5,4.0,7.0,5.0,3.5,2.8,6.5, 5.0,4.2,3.8,7.5,6.0,5.2,4.5,7.5,6.0,4.8],
  [9.9,9.9,8.3,8.4,9.1,10.6,9.0,7.6,7.0,9.4, 7.6,7.2,8.6,10.6,8.8,7.0,5.5,9.0,7.2,6.2, 5.5,8.6,7.5,6.5,6.0,8.0,6.0,4.5,3.5,7.0, 5.0,3.5,2.5,6.5,5.5,5.0,5.5,9.0,8.5,8.0, 7.5,10.0,9.0,8.5,8.0,10.5,9.0,8.0,7.5,9.5, 7.5,6.0,5.0,8.0,6.0,4.5,3.0,6.5,5.0,3.5],
  [10.0,10.1,8.2,8.1,8.8,10.3,8.7,7.2,6.5,9.1, 7.4,6.9,8.0,10.0,8.2,6.2,4.2,7.8,6.0,4.8, 3.5,7.2,7.5,8.5,9.0,11.5,10.0,9.2,8.8,10.5, 9.0,8.5,9.5,12.0,9.5,7.5,6.5,8.0,6.0,3.0, 1.0,5.0,1.5,-1.0,-2.7,3.5,1.5,0.5,1.5,5.5, 3.5,2.5,3.0,6.0,4.5,3.0,2.0,5.5,5.0,4.5],
  [10.1,10.0,8.3,8.4,9.0,10.5,8.9,7.7,7.0,9.3, 7.6,7.2,9.5,12.8,9.2,6.8,5.2,8.8,7.0,6.0, 5.0,9.5,10.0,10.5,11.0,12.5,12.0,11.5,11.0,13.5, 12.0,11.0,10.5,12.0,11.0,10.5,10.0,11.5,10.5,9.5, 9.0,10.5,9.5,9.0,9.0,11.5,10.0,9.0,8.5,10.5, 9.5,9.0,9.5,14.5,11.0,9.5,9.0,13.0,11.0,10.0],
  [9.9,9.8,7.9,8.0,8.6,10.0,8.3,7.0,6.2,8.8, 7.0,6.5,7.8,9.8,8.0,6.0,4.5,8.0,6.0,5.0, 4.0,7.5,6.0,5.5,6.0,8.5,7.0,6.0,5.5,8.0, 7.0,6.5,7.0,9.5,8.0,7.5,7.0,9.5,8.0,7.0, 6.5,9.0,7.5,6.5,6.0,8.5,7.0,6.0,5.5,9.0, 7.5,6.5,6.0,9.5,7.5,6.0,5.0,8.5,6.5,5.0],
  [10.0,9.9,8.2,8.3,9.0,10.6,8.8,7.5,6.8,9.2, 7.5,7.0,8.3,10.2,8.5,6.5,5.0,8.0,5.5,3.0, 0.5,5.5,3.0,2.0,1.5,5.0,3.5,2.5,2.0,6.0, 5.0,4.5,4.0,7.0,5.5,4.5,4.0,7.5,6.0,5.0, 4.5,8.0,6.5,6.0,5.5,8.5,7.0,6.0,5.0,7.5, 5.5,4.0,3.5,6.5,4.5,3.0,-2.0,4.5,3.0,1.0],
  [10.2,10.2,8.4,8.5,9.2,10.9,9.0,7.7,7.1,9.5, 7.7,7.2,8.6,10.8,8.9,7.0,5.6,9.2,7.5,6.8, 6.5,9.5,8.5,8.0,8.0,10.0,8.0,7.0,6.5,9.0, 7.5,6.0,5.5,8.5,7.0,6.0,5.5,8.0,6.5,5.5, 5.0,7.5,6.5,6.0,6.0,8.5,7.5,7.0,7.0,10.5, 9.0,8.5,8.5,12.0,10.5,9.0,8.0,10.0,8.0,6.5],
  [9.8,9.8,8.0,8.0,8.8,10.2,8.5,7.2,6.4,8.9, 7.2,6.6,8.0,9.9,8.2,6.2,4.8,8.3,6.2,5.0, 3.5,7.0,5.0,4.0,4.5,8.5,7.5,7.0,7.0,9.5, 8.0,7.0,6.5,9.0,6.0,3.5,1.5,6.5,4.5,3.5, 3.0,7.5,6.0,5.0,4.0,7.0,5.0,3.5,2.0,6.0, 4.5,3.0,2.5,7.0,5.0,2.5,0.5,6.5,4.0,1.5],
  [10.0,10.0,8.2,8.3,8.9,10.5,8.8,7.6,6.9,9.3, 7.6,7.1,8.4,10.3,8.6,6.7,5.3,8.6,6.8,6.0, 5.0,8.0,7.5,7.5,8.0,10.5,9.5,9.5,9.5,12.5, 11.5,10.5,10.0,13.5,12.0,10.0,9.0,11.0,9.0,7.5, 6.5,9.0,7.5,6.5,6.0,8.0,6.5,5.5,5.0,8.5, 7.0,6.0,5.5,8.5,6.5,5.0,4.5,7.5,5.5,4.0],
  [10.1,10.1,8.3,8.4,9.1,10.7,8.9,7.5,6.8,9.2, 7.5,7.0,8.3,10.2,8.4,6.4,4.9,8.4,6.4,5.2, 4.0,7.8,6.5,6.0,6.5,9.0,8.0,7.5,7.0,10.0, 9.0,8.5,8.5,10.5,9.5,9.0,9.0,11.5,10.0,9.5, 9.0,11.5,10.0,9.0,8.0,10.5,8.5,7.0,6.5,10.0, 9.0,8.5,8.5,11.0,9.5,8.5,8.0,11.5,10.5,9.5],
  [9.9,9.9,8.1,8.2,8.8,10.3,8.6,7.3,6.6,9.0, 7.3,6.8,8.1,10.0,8.2,6.2,4.7,8.0,6.0,4.5, 3.0,6.5,5.0,4.0,3.5,7.0,5.5,4.5,4.0,7.5, 6.5,6.0,6.5,9.0,7.5,6.0,5.5,8.5,7.0,6.0, 5.5,7.5,6.0,4.5,3.5,6.5,5.0,4.0,3.5,7.5, 6.0,5.0,4.5,8.5,6.5,4.5,3.5,7.0,5.0,3.5],
  [10.0,10.0,8.1,8.2,8.9,10.4,8.7,7.4,6.7,9.1, 7.4,6.9,8.2,10.1,8.3,6.3,4.8,8.3,6.5,5.5, 4.5,8.2,7.0,6.5,7.0,9.5,8.0,7.5,7.0,9.5, 8.0,7.5,7.5,10.5,8.5,7.0,6.5,8.5,7.5,6.5, 6.0,8.0,6.5,5.5,5.5,8.0,6.5,5.5,5.0,8.0, 6.5,5.0,4.5,8.0,6.0,4.5,4.0,7.5,6.0,5.0]
];
const t2mRefs = [0];

// ---- Sneeuwval/6 uur ----
const snowControl = [0,0,0,0,0,0,0,0,0,0, 0,0,0,0,0,0,0,0,0,0, 0,0,0,0,0,0,0,0,0,0, 0,0,0,0,0,0,0,0,0,0, 0,0,0,0,0,0,0,0,0,0, 0,0,0,0,0,0,0,0,0,0];
const snowOper = [0,0,0,0,0,0,0,0,0,0, 0,0,0,0,0,0,0,0,0,0, 0,0,0,0,0,0,0,0,0,0, 0,0,0,0,0,0,0,0,0,0];
const snowMean = [0,0,0,0,0,0,0,0,0,0, 0,0,0,0,0,0,0,0,0,0, 0,0,0,0,0,0,0,0,0,0, 0,0,0,0,0,0,0,0,0,0, 0,0,0,0.02,0.04,0.01,0,0,0,0, 0,0,0,0,0,0.01,0.01,0.05,0.07,0.04];
const snowMembers = [
  [0,0,0,0,0,0,0,0,0,0, 0,0,0,0,0,0,0,0,0,0, 0,0,0,0,0,0,0,0,0,0, 0,0,0,0,0,0,0,0,0,0, 0,0,0,0,1.6,0,0,0,0,0, 0,0,0,0,0,0,0,0,0,0],
  [0,0,0,0,0,0,0,0,0,0, 0,0,0,0,0,0,0,0,0,0, 0,0,0,0,0,0,0,0,0,0, 0,0,0,0,0,0,0,0,0,0, 0,0,0,0,0,0,0,0,0,0, 0,0,0,0,0,0,0,0,3.3,0.2],
  [0,0,0,0,0,0,0,0,0,0, 0,0,0,0,0,0,0,0,0,0, 0,0,0,0,0,0,0,0,0,0, 0,0,0,0,0,0,0,0,0,0, 0,0,0,0,0,0,0,0,0,0, 0,0,0,0,0.05,0.1,0.1,0.05,0,0]
];

const titleText = 'Woensdag  7 November 2012  (starttijd  Wo 00 UTC)';
const stationName = 'De Bilt';
const sourceText = 'Bron: ECMWF/KNMI';
const legendNames = ['Control', 'Oper', 'Ens mn'];

const colMember = 'rgba(128,186,68,0.85)';
const colControl = '#2a2aff';
const colOper = '#ff1a1a';
const colMean = '#8a1010';
const fontFam = '"Liberation Sans", Arial, sans-serif';

const panels = [
  { left: 0, top: 0, label: 'Neerslag/6 uur', unit: 'mm', min: 0, max: 20, yTicks: [0,5,10,15,20],
    members: precipMembers, control: precipControl, oper: precipOper, mean: precipMean,
    refs: precipRefs.map(v => ({ v, color: '#000', w: 1, dash: [1, 2] })) },
  { left: 389, top: 0, label: 'Accum Neerslag', unit: 'mm', min: 0, max: 90, yTicks: [0,10,20,30,40,50,60,70,80,90],
    members: accumMembers, control: accumControl, oper: accumOper, mean: accumMean, refs: [] },
  { left: 0, top: 185, label: '10m wind', unit: 'm/s', min: 0, max: 20, yTicks: [0,5,10,15,20],
    members: windMembers, control: windControl, oper: windOper, mean: windMean,
    refs: windRefs.map(v => ({ v, color: '#000', w: 1, dash: [1, 2] })) },
  { left: 389, top: 185, label: 'Windstoten', unit: 'm/s', min: 0, max: 35, yTicks: [0,5,10,15,20,25,30,35],
    members: gustMembers, control: gustControl, oper: gustOper, mean: gustMean,
    refs: gustRefs.map(v => ({ v, color: '#000', w: 1, dash: [1, 2] }))
      .concat(gustWarn.map(v => ({ v, color: '#ff00ff', w: 1.5, dash: [5, 3] }))) },
  { left: 0, top: 369, label: 'T2m', unit: 'Celsius', min: -4, max: 18, yTicks: [0,5,10,15],
    members: t2mMembers, control: t2mControl, oper: t2mOper, mean: t2mMean,
    refs: t2mRefs.map(v => ({ v, color: '#000', w: 3, dash: [] })) },
  { left: 389, top: 369, label: 'Sneeuwval/6 uur', unit: 'cm', min: 0, max: 5, yTicks: [0,1,2,3,4,5],
    members: snowMembers, control: snowControl, oper: snowOper, mean: snowMean, refs: [] }
];

function xy(vals) {
  return vals.map((v, k) => ({ x: hours[k], y: v }));
}

function addDiv(parent, cls, text, style) {
  const d = document.createElement('div');
  d.className = cls;
  if (text) d.textContent = text;
  Object.assign(d.style, style || {});
  parent.appendChild(d);
  return d;
}

function xLabel(v) {
  if (v % 24 === 0) return '00';
  const k = dayTicks.indexOf(v);
  return k >= 0 ? dayLabels[k] : '';
}

const frame = document.getElementById('frame');

panels.forEach((p) => {
  const box = addDiv(frame, 'panel', null, { left: p.left + 'px', top: p.top + 'px' });
  const cv = document.createElement('canvas');
  cv.width = 389; cv.height = 184;
  box.appendChild(cv);

  addDiv(box, 'ttl', titleText);
  addDiv(box, 'stn', stationName, { top: '17px' });
  addDiv(box, 'stn', p.label, { top: '29px' });
  addDiv(box, 'bron', sourceText);
  // legenda
  addDiv(box, 'lgl', null, { top: '23px', borderTop: '2px dashed ' + colControl });
  addDiv(box, 'lgl', null, { top: '30px', borderTop: '1.5px solid ' + colOper });
  addDiv(box, 'lgl', null, { top: '36.5px', borderTop: '2.5px dotted ' + colMean });
  addDiv(box, 'lgt', legendNames[0], { top: '20px' });
  addDiv(box, 'lgt', legendNames[1], { top: '26.5px' });
  addDiv(box, 'lgt', legendNames[2], { top: '33.5px' });

  const datasets = [];
  p.members.forEach(m => datasets.push({ data: xy(m), borderColor: colMember, borderWidth: 1.2, order: 10 }));
  p.refs.forEach(r => datasets.push({ data: [{ x: 0, y: r.v }, { x: 360, y: r.v }], borderColor: r.color, borderWidth: r.w, borderDash: r.dash, order: 5 }));
  datasets.push({ data: xy(p.control), borderColor: colControl, borderWidth: 2, borderDash: [5, 3], order: 3 });
  datasets.push({ data: xy(p.oper), borderColor: colOper, borderWidth: 1.6, order: 2 });
  datasets.push({ data: xy(p.mean), borderColor: colMean, borderWidth: 3, borderDash: [3, 3], order: 1 });
  datasets.forEach(d => { d.xAxisID = 'x'; d.yAxisID = 'y'; d.pointRadius = 0; d.tension = 0; d.fill = false; });

  const yTickFont = { family: fontFam, size: 9, weight: 'bold' };
  new Chart(cv, {
    type: 'line',
    data: { datasets },
    options: {
      responsive: false,
      animation: false,
      layout: { padding: { top: 17, left: 0, right: 0, bottom: 0 } },
      plugins: { legend: { display: false }, tooltip: { enabled: false }, title: { display: false } },
      scales: {
        x: {
          type: 'linear', position: 'bottom', min: 0, max: 360,
          afterBuildTicks: s => { s.ticks = hourTicks.map(v => ({ value: v })); },
          afterFit: s => { s.height = 28; },
          ticks: {
            autoSkip: false, maxRotation: 0, minRotation: 0, padding: 0, color: '#000',
            font: c => (c.tick && c.tick.value % 24 === 0)
              ? { family: fontFam, size: 6, lineHeight: 0.2 }
              : { family: fontFam, size: 9, lineHeight: 1.2 },
            callback: v => xLabel(v)
          },
          grid: { drawOnChartArea: false, color: '#9a9a9a', tickLength: 3 },
          border: { color: '#000', width: 1 },
          title: { display: true, text: 'Dag', color: '#000', font: { family: fontFam, size: 12, weight: 'bold' }, padding: { top: 0, bottom: 2 } }
        },
        y: {
          position: 'left', min: p.min, max: p.max,
          afterBuildTicks: s => { s.ticks = p.yTicks.map(v => ({ value: v })); },
          afterFit: s => { s.width = 32; },
          ticks: { padding: 1, color: '#000', font: yTickFont, autoSkip: false },
          grid: { drawOnChartArea: false, color: '#000', tickLength: 4 },
          border: { color: '#000', width: 1 },
          title: { display: true, text: p.unit, color: '#000', font: { family: fontFam, size: 12, weight: 'bold' }, padding: { top: 4, bottom: 0 } }
        },
        y2: {
          position: 'right', min: p.min, max: p.max,
          afterBuildTicks: s => { s.ticks = p.yTicks.map(v => ({ value: v })); },
          afterFit: s => { s.width = 31; },
          ticks: { padding: 1, color: '#000', font: yTickFont, autoSkip: false },
          grid: { drawOnChartArea: false, color: '#000', tickLength: 3 },
          border: { color: '#8c8c8c', width: 2 }
        }
      }
    }
  });
});

// panelranden
addDiv(frame, 'fl', null, { left: '389px', top: '0px', width: '1px', height: '552px' });
addDiv(frame, 'fl', null, { left: '0px', top: '184px', width: '778px', height: '1px' });
addDiv(frame, 'fl', null, { left: '0px', top: '368px', width: '778px', height: '1px' });
addDiv(frame, 'ol', null, { left: '0px', top: '0px', width: '1px', height: '554px' });
addDiv(frame, 'ol', null, { left: '777px', top: '0px', width: '1px', height: '554px' });
addDiv(frame, 'ol', null, { left: '0px', top: '552px', width: '778px', height: '2px' });
</script>
</body>
</html>
